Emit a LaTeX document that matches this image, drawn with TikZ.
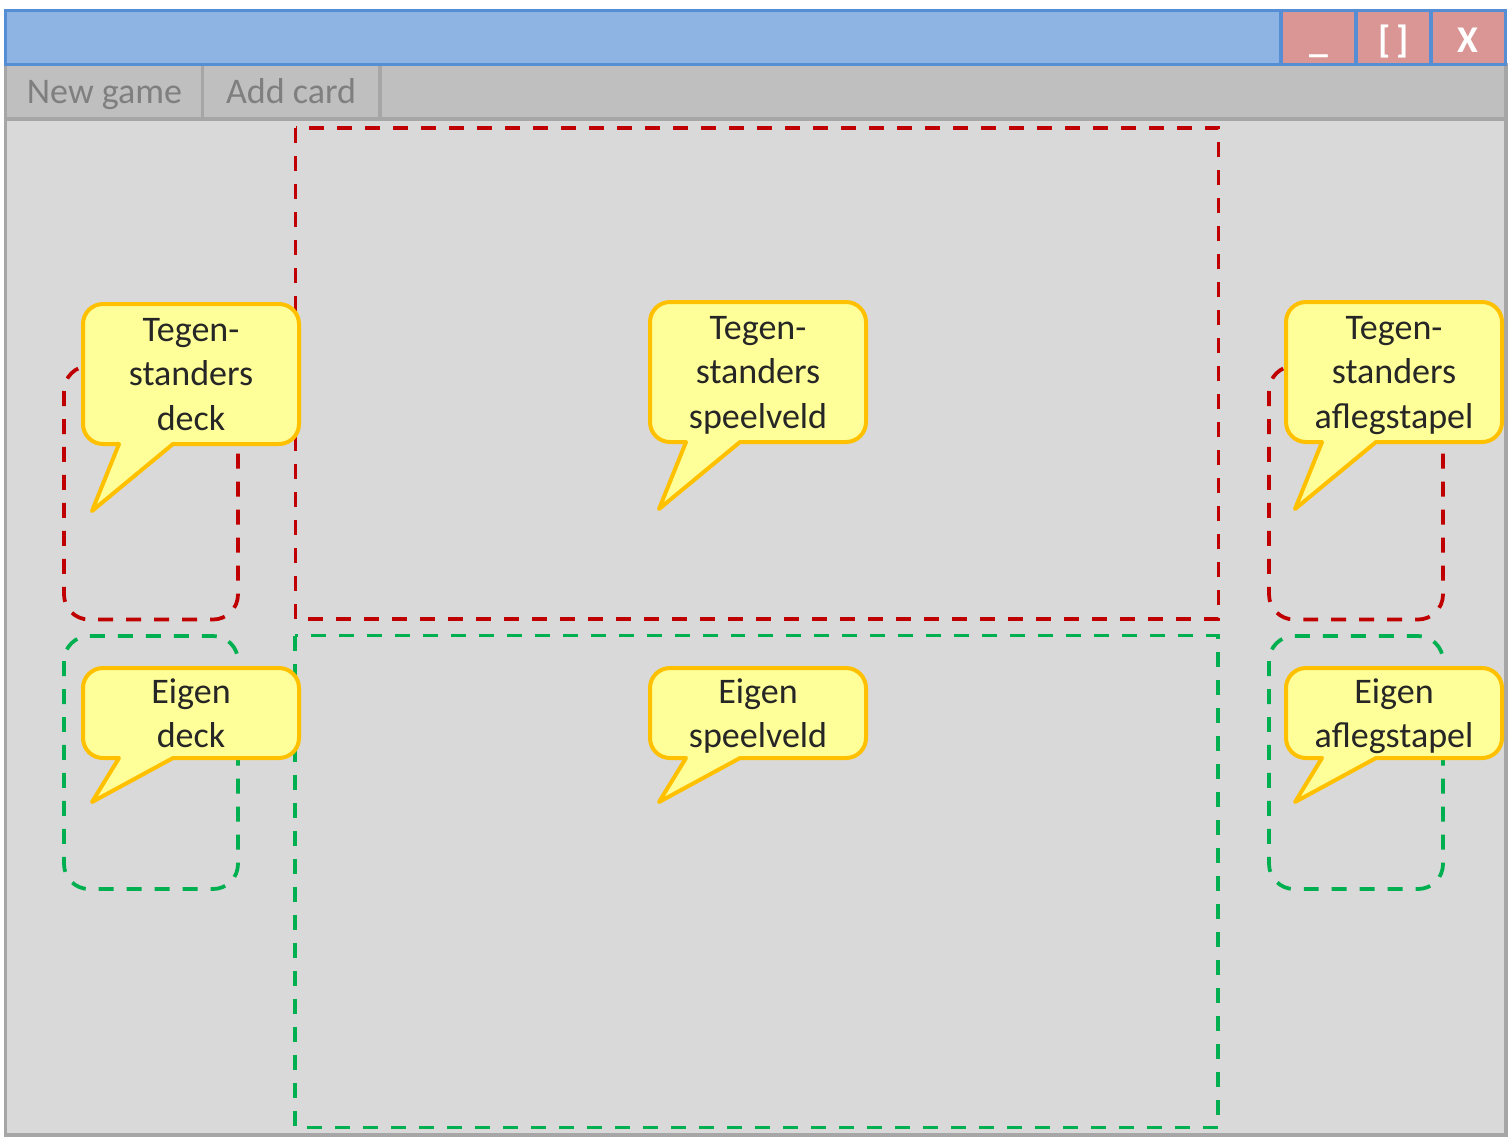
\documentclass[tikz,border=0pt]{standalone}
\usepackage{fontspec}
\setmainfont{Carlito}
\usepackage{tikz}
\usetikzlibrary{calc}

\definecolor{titleblue}{HTML}{8EB4E3}
\definecolor{titleline}{HTML}{558ED5}
\definecolor{btnred}{HTML}{D99694}
\definecolor{menugray}{HTML}{BFBFBF}
\definecolor{framegray}{HTML}{A6A6A6}
\definecolor{bodygray}{HTML}{D9D9D9}
\definecolor{menufont}{HTML}{7F7F7F}
\definecolor{zonered}{HTML}{C00000}
\definecolor{zonegreen}{HTML}{00B050}
\definecolor{bubblefill}{HTML}{FFFF99}
\definecolor{bubbleline}{HTML}{FFC000}
\definecolor{bubblefont}{HTML}{262626}

% callout: name, left x, top y, bottom y, tail length, text
\newcommand{\bubble}[6]{%
	\draw[bubble] ({#2+36},#4) [rounded corners=0.4cm] -- (#2,#4) -- (#2,#3) -- ({#2+216},#3) -- ({#2+216},#4) [sharp corners] -- ({#2+90},#4) -- ({#2+9},{#4+#5}) -- cycle;
	\node[bubbletext] (#1) at ({#2+108},{(#3+#4)/2}) {#6};}

\begin{document}
\begin{tikzpicture}[x=0.02cm,y=-0.02cm,
	frame/.style={line width=0.07cm},
	zone/.style={line width=0.075cm, dash pattern=on 0.3cm off 0.26cm},
	bubble/.style={fill=bubblefill, draw=bubbleline, line width=0.08cm, line join=round},
	bubbletext/.style={align=center, inner sep=0pt, text depth=0pt, text=bubblefont, font=\fontsize{20.5pt}{25.3pt}\selectfont},
	menutext/.style={anchor=base, inner sep=0pt, text=menufont, font=\fontsize{20.5pt}{25pt}\selectfont},
	btntext/.style={anchor=base, inner sep=0pt, text=white, font=\fontsize{21.5pt}{25pt}\selectfont\bfseries}]
	
	\useasboundingbox (0,0) rectangle (1510,1137);
	
	% window body and menu bar
	\filldraw[frame, fill=bodygray, draw=framegray] (5.5,64.5) rectangle (1506,1135);
	\filldraw[frame, fill=menugray, draw=framegray] (5.5,64.5) rectangle (1506,119);
	\draw[frame, framegray] (202.5,64.5) -- (202.5,119);
	\draw[frame, framegray] (380,64.5) -- (380,119);
	\node[menutext] (newgame) at (104.5,103) {New game};
	\node[menutext] (addcard) at (291,103) {Add card};
	
	% title bar
	\filldraw[frame, fill=titleblue, draw=titleline] (5.5,10.5) rectangle (1505.5,64.5);
	\filldraw[frame, fill=btnred, draw=titleline] (1281,10.5) rectangle (1356,64.5);
	\filldraw[frame, fill=btnred, draw=titleline] (1356,10.5) rectangle (1431,64.5);
	\filldraw[frame, fill=btnred, draw=titleline] (1431,10.5) rectangle (1505.5,64.5);
	\node[btntext] (minbtn) at (1318.5,52) {\_};
	\node[btntext] (maxbtn) at (1393.5,52) {[\,]};
	\node[btntext] (closebtn) at (1468,52) {X};
	
	% zones
	\draw[zone, zonered] (295.5,128) rectangle (1218.5,619);
	\draw[zone, zonered, rounded corners=0.5cm] (64,366) rectangle (238,619.5);
	\draw[zone, zonered, rounded corners=0.5cm] (1269,366) rectangle (1443,619.5);
	\draw[zone, zonegreen] (295,635.5) rectangle (1218,1127.5);
	\draw[zone, zonegreen, rounded corners=0.5cm] (64,636) rectangle (238,889);
	\draw[zone, zonegreen, rounded corners=0.5cm] (1269,636) rectangle (1443,889);
	
	% callouts
	\bubble{tdeck}{83}{304}{444}{67}{Tegen-\\standers\\deck}
	\bubble{tveld}{650}{302}{442}{67}{Tegen-\\standers\\speelveld}
	\bubble{tstapel}{1286}{302}{442}{67}{Tegen-\\standers\\aflegstapel}
	\bubble{edeck}{83}{668}{758}{44}{Eigen\\deck}
	\bubble{eveld}{650}{668}{758}{44}{Eigen\\speelveld}
	\bubble{estapel}{1286}{668}{758}{44}{Eigen\\aflegstapel}
	
\end{tikzpicture}
\end{document}
